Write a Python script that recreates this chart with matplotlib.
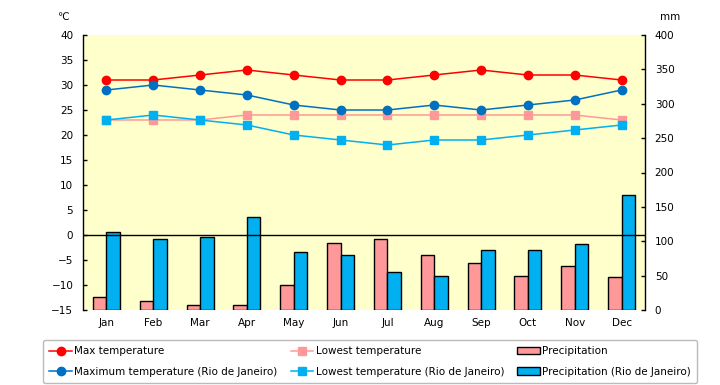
import matplotlib.pyplot as plt
import numpy as np

MONTHS = ["Jan", "Feb", "Mar", "Apr", "May", "Jun", "Jul", "Aug", "Sep", "Oct", "Nov", "Dec"]
MAX_TEMP = [31, 31, 32, 33, 32, 31, 31, 32, 33, 32, 32, 31]
LOW_TEMP = [23, 23, 23, 24, 24, 24, 24, 24, 24, 24, 24, 23]
MAX_TEMP_RIO = [29, 30, 29, 28, 26, 25, 25, 26, 25, 26, 27, 29]
LOW_TEMP_RIO = [23, 24, 23, 22, 20, 19, 18, 19, 19, 20, 21, 22]
PRECIP = [19, 13, 8, 7, 36, 98, 103, 80, 68, 50, 64, 48]
PRECIP_RIO = [113, 104, 106, 136, 85, 80, 55, 50, 87, 87, 96, 168]

TEMP_TICKS = list(range(-15, 41, 5))
PRECIP_TICKS = list(range(0, 401, 50))

FONT_SIZE = 7.5
BG_COLOR = "#FFFFCC"

plt.rcParams["font.family"] = ["DejaVu Sans"]

fig = plt.figure(figsize=(7.2, 3.85), dpi=100)
ax = fig.add_axes([83 / 720, 1 - 310 / 385, (645 - 83) / 720, 275 / 385])
ax2 = ax.twinx()

x = np.arange(len(MONTHS))
width = 0.29

# bars on the right (mm) axis, drawn below the lines
ax2.patch.set_visible(True)
ax2.patch.set_facecolor(BG_COLOR)
ax.set_zorder(ax2.get_zorder() + 1)
ax.patch.set_visible(False)

b1 = ax2.bar(x - width / 2, PRECIP, width, color="#FF9999", edgecolor="black", linewidth=1,
             label="Precipitation")
b2 = ax2.bar(x + width / 2, PRECIP_RIO, width, color="#00B0F0", edgecolor="black", linewidth=1,
             label="Precipitation (Rio de Janeiro)")

ax.axhline(0, color="black", linewidth=1)

l1, = ax.plot(x, MAX_TEMP, color="#FF0000", marker="o", markersize=6, linewidth=1.1,
              label="Max temperature")
l2, = ax.plot(x, LOW_TEMP, color="#FF9999", marker="s", markersize=6, linewidth=1.1,
              label="Lowest temperature")
l3, = ax.plot(x, MAX_TEMP_RIO, color="#0070C0", marker="o", markersize=6, linewidth=1.1,
              label="Maximum temperature (Rio de Janeiro)")
l4, = ax.plot(x, LOW_TEMP_RIO, color="#00B0F0", marker="s", markersize=6, linewidth=1.1,
              label="Lowest temperature (Rio de Janeiro)")

ax.set_xlim(-0.5, len(MONTHS) - 0.5)
ax.set_ylim(-15, 40)
ax2.set_ylim(0, 400)
ax.set_yticks(TEMP_TICKS)
ax.set_yticklabels([str(t).replace("-", "\u2212") for t in TEMP_TICKS])
ax2.set_yticks(PRECIP_TICKS)
ax.set_xticks(x)
ax.set_xticklabels(MONTHS)

for a in (ax, ax2):
    a.spines["top"].set_visible(False)
    a.spines["bottom"].set_visible(False)
    a.tick_params(labelsize=FONT_SIZE, length=3, width=1, direction="in", pad=7, colors="black")
    a.tick_params(axis="x", length=0, pad=6)
ax.spines["right"].set_visible(False)
ax2.spines["left"].set_visible(False)
ax.spines["left"].set_linewidth(1)
ax2.spines["right"].set_linewidth(1)

fig.text(57 / 720, 1 - 17 / 385, "\u2103", fontsize=FONT_SIZE, ha="left", va="center")
fig.text(660 / 720, 1 - 17 / 385, "mm", fontsize=FONT_SIZE, ha="left", va="center")

handles = [l1, l3, l2, l4, b1, b2]
leg = fig.legend(handles, [h.get_label() for h in handles], ncol=3,
                 loc="lower left", mode="expand",
                 bbox_to_anchor=(43 / 720, 2 / 385, 654 / 720, 49 / 385),
                 fontsize=FONT_SIZE, frameon=True, fancybox=True, edgecolor="#AAAAAA",
                 handlelength=2.2, handletextpad=0.2, borderaxespad=0, labelspacing=1.0,
                 columnspacing=0.5, borderpad=0.6)
leg.get_frame().set_linewidth(1)

fig.savefig("out.png", dpi=100)
